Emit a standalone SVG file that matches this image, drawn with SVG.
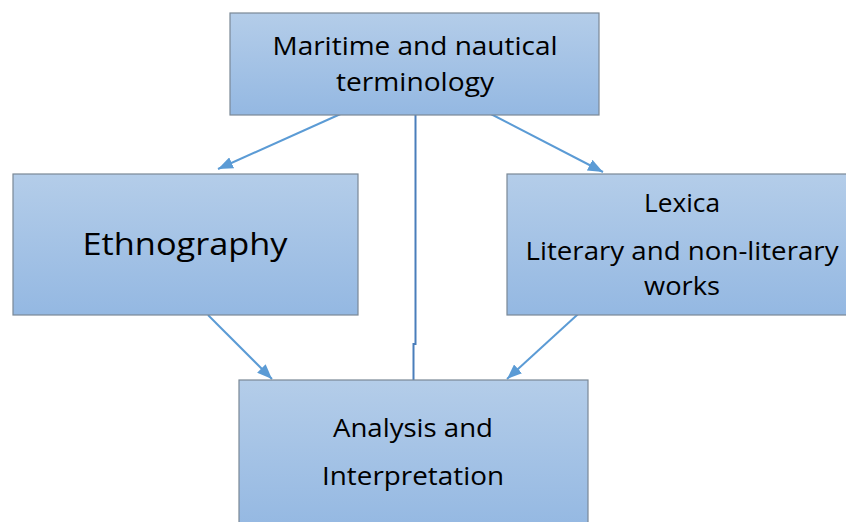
<svg xmlns="http://www.w3.org/2000/svg" width="846" height="522" viewBox="0 0 846 522">
<defs>
<linearGradient id="g" x1="0" y1="0" x2="0" y2="1">
<stop offset="0" stop-color="#b4cde9"/>
<stop offset="1" stop-color="#94b8e2"/>
</linearGradient>
<marker id="ah" markerWidth="15" markerHeight="12" refX="15" refY="6" orient="auto" markerUnits="userSpaceOnUse">
<path d="M0,0 L15,6 L0,12 Z" fill="#5b9bd5"/>
</marker>
<style>
.box{fill:url(#g);stroke:#7a8896;stroke-width:1.2}
.t{font-family:"Open Sans","Liberation Sans",sans-serif;font-size:25px;fill:#000;text-anchor:middle}
.c{stroke:#5b9bd5;stroke-width:2;fill:none;marker-end:url(#ah)}
</style>
</defs>
<rect width="846" height="522" fill="#fff"/>
<g id="connectors">
<line class="c" x1="345" y1="112" x2="218" y2="169"/>
<line class="c" x1="487" y1="112" x2="603" y2="172"/>
<line class="c" x1="208" y1="315" x2="272" y2="379"/>
<line class="c" x1="588" y1="305" x2="507" y2="379"/>
<polyline points="415.5,115 415.5,344 413.5,344 413.5,380" fill="none" stroke="#4a7ebb" stroke-width="2"/>
</g>
<g id="maritime">
<rect class="box" x="230" y="13" width="369" height="102"/>
<text class="t" x="415" y="55" textLength="285" lengthAdjust="spacingAndGlyphs">Maritime and nautical</text>
<text class="t" x="415" y="91" textLength="158" lengthAdjust="spacingAndGlyphs">terminology</text>
</g>
<g id="ethnography">
<rect class="box" x="13" y="174" width="345" height="141"/>
<text class="t" x="185" y="255" style="font-size:31px" textLength="205" lengthAdjust="spacingAndGlyphs">Ethnography</text>
</g>
<g id="lexica">
<rect class="box" x="507" y="174" width="340" height="141"/>
<text class="t" x="682" y="212" textLength="76" lengthAdjust="spacingAndGlyphs">Lexica</text>
<text class="t" x="682" y="260" textLength="313" lengthAdjust="spacingAndGlyphs">Literary and non-literary</text>
<text class="t" x="682" y="295" textLength="76" lengthAdjust="spacingAndGlyphs">works</text>
</g>
<g id="analysis">
<rect class="box" x="239" y="380" width="349" height="150"/>
<text class="t" x="413" y="437" textLength="160" lengthAdjust="spacingAndGlyphs">Analysis and</text>
<text class="t" x="413" y="485" textLength="182" lengthAdjust="spacingAndGlyphs">Interpretation</text>
</g>
</svg>
